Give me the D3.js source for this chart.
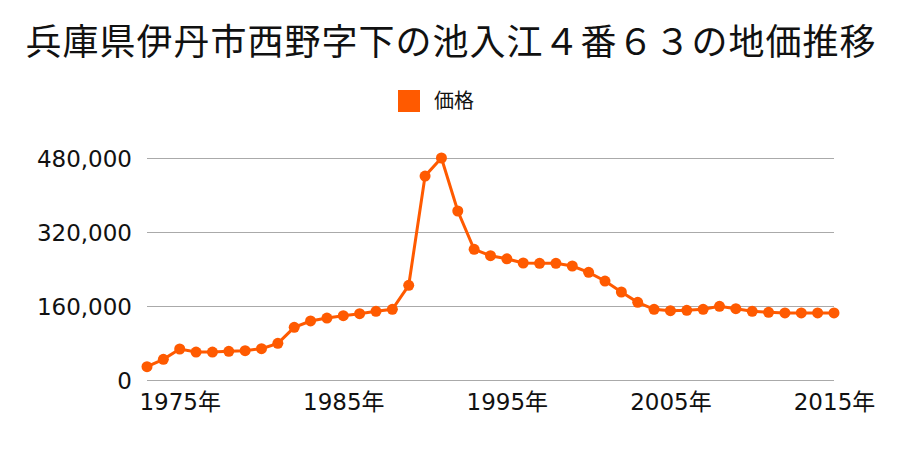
<!DOCTYPE html>
<html><head><meta charset="utf-8">
<script src="https://cdn.jsdelivr.net/npm/d3@7"></script>
<style>body{margin:0;background:#fff;}svg{display:block;}</style>
</head><body>
<svg id="chart" width="900" height="450"></svg>
<script>
const title = "兵庫県伊丹市西野字下の池入江４番６３の地価推移";
const seriesName = "価格";
const years = [1973,1974,1975,1976,1977,1978,1979,1980,1981,1982,1983,1984,1985,1986,1987,1988,1989,1990,1991,1992,1993,1994,1995,1996,1997,1998,1999,2000,2001,2002,2003,2004,2005,2006,2007,2008,2009,2010,2011,2012,2013,2014,2015];
const prices = [28800,44700,67000,60500,60500,62000,63400,67700,79300,113900,127600,134000,139000,143400,148500,152800,204700,441000,480000,365400,282500,268800,262000,253000,252300,252300,246500,232800,214000,190300,168000,152800,149900,150600,152800,159300,154200,148500,146300,144900,144900,144900,144900];
const yTicks = [0,160000,320000,480000];
const xTicks = [1975,1985,1995,2005,2015];

const svg = d3.select("#chart");
const font = "'Noto Sans CJK JP','Noto Sans',sans-serif";
const numFont = "'DejaVu Sans','Noto Sans CJK JP',sans-serif";
const color = "#ff5a00";
const x = d3.scaleLinear().domain([1973,2015]).range([147,834]);
const y = d3.scaleLinear().domain([0,480000]).range([380,158]);

svg.append("text").attr("x",451).attr("y",55).attr("text-anchor","middle")
  .attr("font-family",font).attr("font-size",36).attr("letter-spacing",1).attr("fill","#111").text(title);

svg.append("rect").attr("x",398).attr("y",90).attr("width",22).attr("height",22).attr("fill",color);
svg.append("text").attr("x",434).attr("y",108).attr("font-family",font).attr("font-size",20).attr("fill","#111").text(seriesName);

const yAxis = svg.append("g").attr("transform","translate(147,0)")
  .call(d3.axisLeft(y).tickValues(yTicks).tickSize(-(834-147)).tickFormat(d3.format(",")));
yAxis.select(".domain").remove();
yAxis.selectAll(".tick line").attr("stroke","#aaa").attr("stroke-width",1);
yAxis.selectAll(".tick text").attr("x",-15).attr("dy","0.38em").attr("font-family",numFont).attr("font-size",23).attr("fill","#111");

const xAxis = svg.append("g").attr("transform","translate(0,380)")
  .call(d3.axisBottom(x).tickValues(xTicks).tickSize(0).tickFormat(d=>d+"年"));
xAxis.select(".domain").remove();
xAxis.selectAll(".tick text").attr("y",14).attr("font-family",numFont).attr("font-size",23).attr("fill","#111");

const data = years.map((yr,i)=>({yr,v:prices[i]}));
svg.append("path").datum(data)
  .attr("d",d3.line().x(d=>x(d.yr)).y(d=>y(d.v)))
  .attr("fill","none").attr("stroke",color).attr("stroke-width",3);
svg.selectAll("circle.pt").data(data).join("circle").attr("class","pt")
  .attr("cx",d=>x(d.yr)).attr("cy",d=>y(d.v)).attr("r",5.5).attr("fill",color);
</script>
</body></html>
